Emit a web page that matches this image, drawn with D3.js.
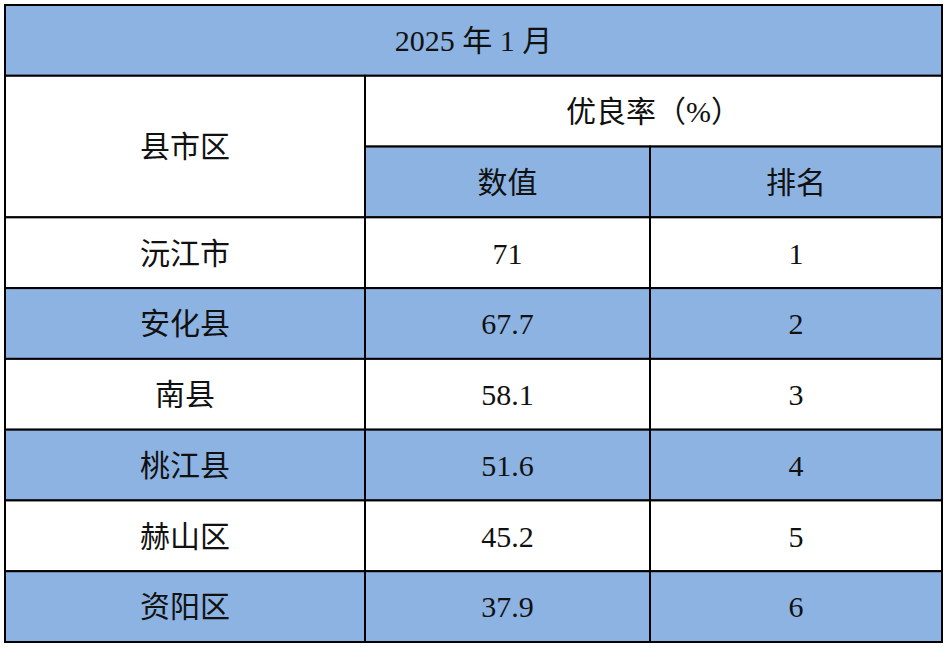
<!DOCTYPE html>
<html><head><meta charset="utf-8">
<script src="https://cdn.jsdelivr.net/npm/d3@7/dist/d3.min.js"></script>
<style>body{margin:0;background:#fff}</style></head>
<body><svg id="c" width="948" height="648"></svg>
<script>
const title = "2025 年 1 月";
const header1 = ["县市区", "优良率（%）"];
const header2 = ["数值", "排名"];
const counties = ["沅江市","安化县","南县","桃江县","赫山区","资阳区"];
const values = ["71","67.7","58.1","51.6","45.2","37.9"];
const ranks = ["1","2","3","4","5","6"];

const svg = d3.select("#c");
const blue = "#8DB3E2";
const font = "'Liberation Serif','Noto Sans CJK SC',serif";
const colX = d3.scaleOrdinal().domain([0,1,2,3]).range([5,365,650,942]);
const rowY = d3.scaleLinear().domain([0,9]).range([5,642]);

function cell(c0,c1,r0,r1,fill,text){
  const x0=colX(c0),x1=colX(c1),y0=rowY(r0),y1=rowY(r1);
  svg.append("rect").attr("x",x0).attr("y",y0).attr("width",x1-x0).attr("height",y1-y0)
    .attr("fill",fill).attr("stroke","#000").attr("stroke-width",2);
  svg.append("text").attr("x",(x0+x1)/2).attr("y",(y0+y1)/2).attr("dy","0.36em")
    .attr("text-anchor","middle").attr("font-family",font).attr("font-size",30)
    .attr("fill","#111").text(text);
}
cell(0,3,0,1,blue,title);
cell(0,1,1,3,"#fff",header1[0]);
cell(1,3,1,2,"#fff",header1[1]);
cell(1,2,2,3,blue,header2[0]);
cell(2,3,2,3,blue,header2[1]);
counties.forEach((c,i)=>{
  const f = i%2 ? blue : "#fff";
  cell(0,1,3+i,4+i,f,c);
  cell(1,2,3+i,4+i,f,values[i]);
  cell(2,3,3+i,4+i,f,ranks[i]);
});
</script></body></html>
